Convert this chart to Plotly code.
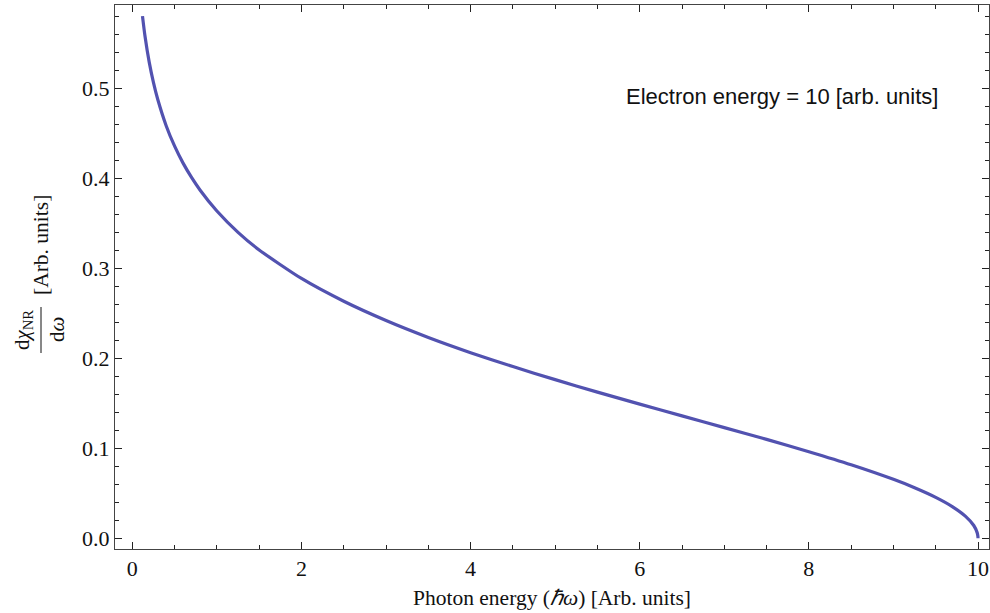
import plotly.graph_objects as go

# Photon energy (x) and dchi/domega (y)
photon_energy = [0.12, 0.15, 0.2, 0.25, 0.3, 0.4, 0.5, 0.6, 0.7, 0.8, 1.0, 1.25, 1.5,
                 2.0, 2.5, 3.0, 3.5, 4.0, 4.5, 5.0, 5.5, 6.0, 6.5, 7.0, 7.5, 8.0,
                 8.5, 9.0, 9.25, 9.5, 9.7, 9.85, 9.95, 9.99, 9.999, 10.0]
dchi_domega = [0.5803, 0.5578, 0.5288, 0.5063, 0.4878, 0.4585, 0.4357, 0.4169, 0.4010,
               0.3871, 0.3637, 0.3400, 0.3204, 0.2887, 0.2634, 0.2420, 0.2232, 0.2063,
               0.1908, 0.1763, 0.1624, 0.1491, 0.1360, 0.1230, 0.1099, 0.0962, 0.0817,
               0.0655, 0.0562, 0.0455, 0.0350, 0.0246, 0.0142, 0.0063, 0.0020, 0.0]

x_ticks = [0, 2, 4, 6, 8, 10]
y_ticks = [0.0, 0.1, 0.2, 0.3, 0.4, 0.5]
y_tick_labels = ["0.0", "0.1", "0.2", "0.3", "0.4", "0.5"]

W, H = 990, 613
L, R, T, B = 115, 1, 5, 64
PW, PH = W - L - R, H - T - B

def px(xp):
    return (xp - L) / PW

def py(yp):
    return (H - B - yp) / PH

serif = "Liberation Serif"
frame_col = "#444444"

fig = go.Figure()
fig.add_trace(go.Scatter(x=photon_energy, y=dchi_domega, mode="lines",
                         line=dict(color="#5252B0", width=3.2, shape="spline", smoothing=0.6),
                         hoverinfo="skip", showlegend=False))

axis_common = dict(showgrid=False, zeroline=False, showline=True, linecolor=frame_col,
                   linewidth=1, mirror="allticks", ticks="inside", ticklen=7,
                   tickwidth=1, tickcolor="#222222",
                   tickfont=dict(family=serif, size=22, color="#111111"))

fig.update_layout(
    width=W, height=H, margin=dict(l=L, r=R, t=T, b=B),
    plot_bgcolor="white", paper_bgcolor="white",
    xaxis=dict(range=[-0.205, 10.13], tickvals=x_ticks, ticktext=[str(v) for v in x_ticks],
               minor=dict(dtick=0.5, tick0=0, ticks="inside", ticklen=4, tickcolor="#222222"),
               **axis_common),
    yaxis=dict(range=[-0.0119, 0.5926], tickvals=y_ticks, ticktext=y_tick_labels,
               minor=dict(dtick=0.02, tick0=0, ticks="inside", ticklen=4, tickcolor="#222222"),
               **axis_common),
)

# annotation in plot
fig.add_annotation(x=px(782), y=py(97), xref="paper", yref="paper",
                   text="Electron energy = 10 [arb. units]", showarrow=False,
                   font=dict(family="Liberation Sans", size=22, color="#111111"),
                   xanchor="center", yanchor="middle")

# x-axis title
fig.add_annotation(x=px(552), y=py(598), xref="paper", yref="paper",
                   text="Photon energy (<i>ℏω</i>) [Arb. units]", showarrow=False,
                   font=dict(family=serif, size=21.5, color="#111111"),
                   xanchor="center", yanchor="middle")

# y-axis title as a rotated fraction
fig.add_annotation(x=px(23), y=py(330), xref="paper", yref="paper",
                   text="d<i>χ</i><sub>NR</sub>", showarrow=False, textangle=-90,
                   font=dict(family=serif, size=21, color="#111111"),
                   xanchor="center", yanchor="middle")
fig.add_annotation(x=px(57), y=py(330), xref="paper", yref="paper",
                   text="d<i>ω</i>", showarrow=False, textangle=-90,
                   font=dict(family=serif, size=21, color="#111111"),
                   xanchor="center", yanchor="middle")
fig.add_annotation(x=px(41), y=py(245), xref="paper", yref="paper",
                   text="[Arb. units]", showarrow=False, textangle=-90,
                   font=dict(family=serif, size=21.5, color="#111111"),
                   xanchor="center", yanchor="middle")
fig.add_shape(type="line", xref="paper", yref="paper",
              x0=px(41), x1=px(41), y0=py(307), y1=py(353),
              line=dict(color="#111111", width=1))

fig.write_html("out.html")
